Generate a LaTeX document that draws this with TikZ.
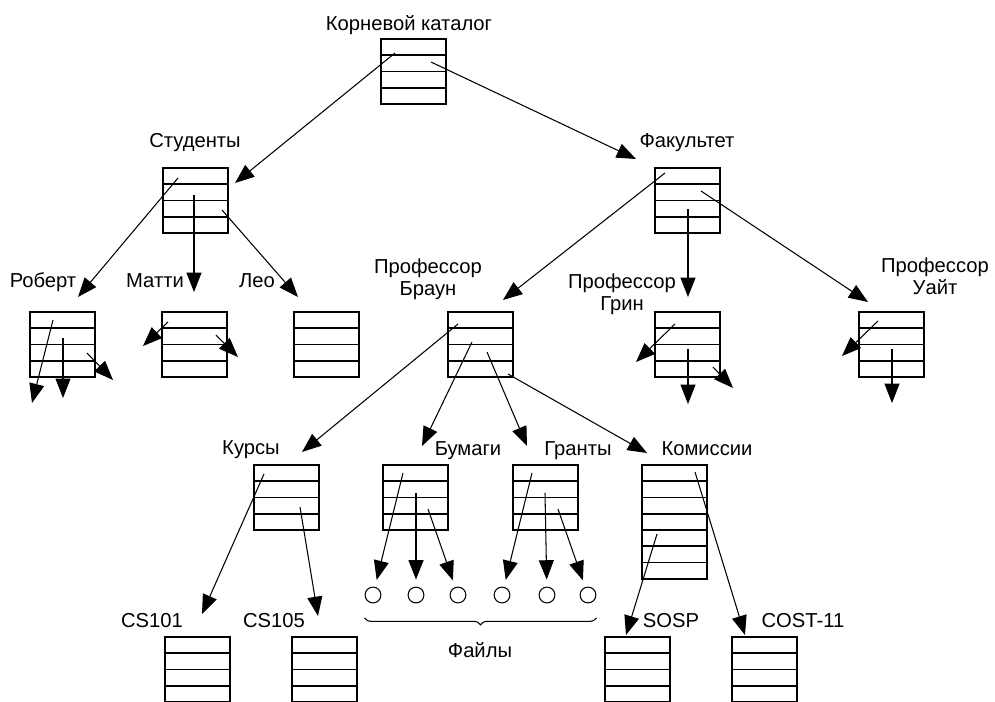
\documentclass[tikz,border=0pt]{standalone}
\usepackage{fontspec}
\setmainfont{Liberation Sans}
\usetikzlibrary{arrows.meta,decorations.pathreplacing}

\tikzset{
  dirbox/.style={draw, line width=0.9pt, anchor=north west, minimum width=1.3cm, inner sep=0pt, outer sep=0pt},
  arr/.style={-{Triangle[length=11pt,width=8.5pt]}, line width=0.6pt},
  lbl/.style={anchor=base, inner sep=0pt, align=center, font=\fontsize{11.5}{12.5}\selectfont},
  file/.style={circle, draw, line width=0.6pt, minimum size=9pt, inner sep=0pt}
}

% catalog box: name, x, y (top left), rows
\newcommand{\catalog}[4]{%
  \node (#1) at (#2,#3) [dirbox, minimum height=#4*0.325cm] {};
  \foreach \r in {2,...,#4}
    \draw[line width=0.9pt] ([yshift=-(\r-1)*0.325cm]#1.north west) -- ([yshift=-(\r-1)*0.325cm]#1.north east);
}
% pointer: from box, offset, to box, offset
\newcommand{\dirlink}[4]{\draw[arr] ([shift={(#2)}]#1.north west) -- ([shift={(#4)}]#3.north west);}

\begin{document}
\begin{tikzpicture}[x=0.02cm, y=-0.02cm]
\useasboundingbox (0,0) rectangle (995,701);
\clip (0,0) rectangle (995,701);

\catalog{root}{381}{39}{4}
\catalog{stud}{163}{168}{4}
\catalog{fac}{655}{168}{4}
\catalog{rob}{30}{312}{4}
\catalog{mat}{162}{312}{4}
\catalog{leo}{294}{312}{4}
\catalog{brown}{448}{312}{4}
\catalog{green}{655}{312}{4}
\catalog{white}{859}{312}{4}
\catalog{kurs}{254}{465}{4}
\catalog{bum}{383}{465}{4}
\catalog{gran}{513}{465}{4}
\catalog{kom}{642}{465}{7}
\catalog{cs101}{165}{637}{4}
\catalog{cs105}{292}{637}{4}
\catalog{sosp}{605}{637}{4}
\catalog{cost}{732}{637}{4}

\node (root-l) at (409,30) [lbl] {Корневой каталог};
\node (stud-l) at (195,147) [lbl] {Студенты};
\node (fac-l) at (687,147) [lbl] {Факультет};
\node (rob-l) at (43,287) [lbl] {Роберт};
\node (mat-l) at (155,287) [lbl] {Матти};
\node (leo-l) at (257,287) [lbl] {Лео};
\node (brown-l) at (428,295) [lbl] {Профессор\\Браун};
\node (green-l) at (622,310) [lbl] {Профессор\\Грин};
\node (white-l) at (935,294) [lbl] {Профессор\\Уайт};
\node (kurs-l) at (251,454) [lbl] {Курсы};
\node (bum-l) at (468,455) [lbl] {Бумаги};
\node (gran-l) at (578,455) [lbl] {Гранты};
\node (kom-l) at (707,455) [lbl] {Комиссии};
\node (cs101-l) at (152,627) [lbl] {CS101};
\node (cs105-l) at (274,627) [lbl] {CS105};
\node (sosp-l) at (671,627) [lbl] {SOSP};
\node (cost-l) at (803,627) [lbl] {COST-11};

\foreach \i/\x in {1/373,2/416,3/458,4/502,5/547,6/588}
  \node (c\i) at (\x,595) [file] {};

% root and first level
\dirlink{root}{14,14}{stud}{72,15}
\dirlink{root}{50,23}{fac}{-19,-9}
\dirlink{stud}{15,10}{rob}{48,-15}
\dirlink{stud}{31,27}{mat}{32,-20}
\dirlink{stud}{59,42}{leo}{4,-15}
\dirlink{fac}{10,5}{brown}{55,-12}
\dirlink{fac}{33,41}{green}{33,-15}
\dirlink{fac}{46,23}{white}{9,-10}

% students
\dirlink{rob}{23,8}{rob}{2,91}
\dirlink{rob}{33,26}{rob}{33,86}
\dirlink{rob}{57,41}{rob}{83,68}
\dirlink{mat}{6,10}{mat}{-19,34}
\dirlink{mat}{54,23}{mat}{76,45}

% professors
\dirlink{green}{20,12}{green}{-19,50}
\dirlink{green}{33,37}{green}{33,92}
\dirlink{green}{58,55}{green}{78,76}
\dirlink{white}{19,9}{white}{-17,44}
\dirlink{white}{33,37}{white}{33,91}
\dirlink{brown}{10,12}{kurs}{48,-13}
\dirlink{brown}{24,30}{bum}{39,-19}
\dirlink{brown}{39,40}{gran}{14,-19}
\dirlink{brown}{60,62}{kom}{5,-12}

\dirlink{kurs}{10,9}{cs101}{37,-23}
\dirlink{kurs}{46,42}{cs105}{26,-21}
\dirlink{kom}{53,7}{cost}{13,-2}
\dirlink{kom}{15,69}{sosp}{21,-2}

% files
\draw[arr, shorten >=4pt] ([shift={(20,8)}]bum.north west) -- (c1);
\draw[arr, shorten >=4pt] ([shift={(33,28)}]bum.north west) -- (c2);
\draw[arr, shorten >=4pt] ([shift={(45,44)}]bum.north west) -- (c3);
\draw[arr, shorten >=4pt] ([shift={(19,8)}]gran.north west) -- (c4);
\draw[arr, shorten >=4pt] ([shift={(32,28)}]gran.north west) -- (c5);
\draw[arr, shorten >=4pt] ([shift={(45,44)}]gran.north west) -- (c6);

\draw[line width=0.6pt, decorate, decoration={brace, mirror, amplitude=4pt}]
  ([yshift=-13pt]c1.west) -- ([yshift=-13pt]c6.east);
\node (files-l) at (480,657) [lbl] {Файлы};

\end{tikzpicture}
\end{document}
